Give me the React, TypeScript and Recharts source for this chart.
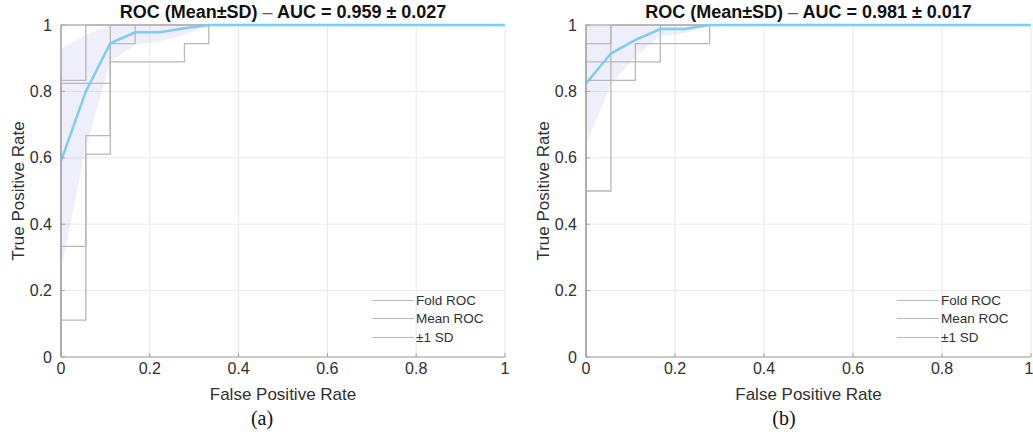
import React from 'react';
import { ComposedChart, Area, Line, XAxis, YAxis, CartesianGrid, Legend } from 'recharts';

const axisTicks = [0, 0.2, 0.4, 0.6, 0.8, 1];
const legendLabels = ['Fold ROC', 'Mean ROC', '±1 SD'];

// shared FPR grid for mean curve and SD band
const meanFpr = [0, 0.056, 0.111, 0.167, 0.222, 0.278, 0.333, 1];

// (a)
const meanTprA = [0.59, 0.8, 0.945, 0.978, 0.978, 0.99, 1, 1];
const lowerTprA = [0.26, 0.63, 0.89, 0.94, 0.95, 0.97, 1, 1];
const upperTprA = [0.93, 0.97, 1, 1, 1, 1, 1, 1];
const foldA1 = [[0, 0], [0, 0.111], [0.056, 0.111], [0.056, 0.611], [0.111, 0.611], [0.111, 0.944], [0.167, 0.944], [0.167, 1], [1, 1]];
const foldA2 = [[0, 0], [0, 0.333], [0.056, 0.333], [0.056, 0.667], [0.111, 0.667], [0.111, 0.889], [0.167, 0.889], [0.278, 0.889], [0.278, 0.944], [0.333, 0.944], [0.333, 1], [1, 1]];
const foldA3 = [[0, 0], [0, 0.833], [0.056, 0.833], [0.056, 1], [1, 1]];
const foldA4 = [[0, 0], [0, 0.824], [0.056, 0.824], [0.111, 0.824], [0.111, 0.889], [0.111, 1], [1, 1]];
const foldA5 = [[0, 0], [0, 1], [1, 1]];

// (b)
const meanTprB = [0.824, 0.914, 0.955, 0.988, 0.988, 1, 1, 1];
const lowerTprB = [0.64, 0.82, 0.905, 0.965, 0.975, 1, 1, 1];
const upperTprB = [1, 1, 1, 1, 1, 1, 1, 1];
const foldB1 = [[0, 0], [0, 0.5], [0.056, 0.5], [0.056, 0.889], [0.167, 0.889], [0.167, 1], [1, 1]];
const foldB2 = [[0, 0], [0, 0.833], [0.111, 0.833], [0.111, 0.944], [0.278, 0.944], [0.278, 1], [1, 1]];
const foldB3 = [[0, 0], [0, 0.944], [0.056, 0.944], [0.056, 1], [1, 1]];
const foldB4 = [[0, 0], [0, 0.889], [0.056, 0.889], [0.056, 1], [1, 1]];
const foldB5 = [[0, 0], [0, 1], [1, 1]];

const FOLD = '#b8b8b8';
const MEAN = '#7ecbf5';
const TEXT = '#303030';
const AXIS = '#a3a3a3';

const LegendBox = () => (
  <div style={{ fontSize: 13.5, color: TEXT }}>
    {legendLabels.map((l) => (
      <div key={l} style={{ display: 'flex', alignItems: 'center', height: 18.5 }}>
        <div style={{ width: 42, height: 0, borderTop: `1px solid ${FOLD}`, marginRight: 2 }} />
        <span>{l}</span>
      </div>
    ))}
  </div>
);

interface PanelProps {
  left: number;
  width: number;
  marginRight: number;
  auc: string;
  caption: string;
  captionX: number;
  mean: number[];
  lower: number[];
  upper: number[];
  folds: number[][][];
}

const RocPanel: React.FC<PanelProps> = ({ left, width, marginRight, auc, caption, captionX, mean, lower, upper, folds }) => {
  const rows = meanFpr.map((fpr, i) => ({ fpr, mean: mean[i], band: [lower[i], upper[i]] }));
  const plotW = width - 61 - marginRight;
  return (
    <div style={{ position: 'absolute', left, top: 0, width, height: 436 }}>
      <div
        style={{
          position: 'absolute', left: 61, top: 1, width: plotW, textAlign: 'center',
          fontSize: 18, fontWeight: 'bold', lineHeight: '22px', color: '#111', whiteSpace: 'nowrap',
        }}
      >
        ROC (Mean±SD) <span style={{ fontWeight: 'normal', color: '#555' }}>–</span> AUC = {auc}
      </div>
      <ComposedChart width={width} height={410} data={rows} margin={{ top: 25, right: marginRight, left: 0, bottom: 30 }}>
        <CartesianGrid stroke="#e8e8e8" />
        <XAxis
          dataKey="fpr" type="number" domain={[0, 1]} ticks={axisTicks} height={23}
          stroke={AXIS} tickSize={-4} tickMargin={10} tick={{ fontSize: 16, fill: TEXT }}
          tickFormatter={(v) => String(v)}
          label={{ value: 'False Positive Rate', position: 'bottom', offset: 8, fontSize: 17, fill: TEXT }}
        />
        <YAxis
          type="number" domain={[0, 1]} ticks={axisTicks} width={61}
          stroke={AXIS} tickSize={-4} tickMargin={13} tick={{ fontSize: 16, fill: TEXT }}
          tickFormatter={(v) => String(v)}
          label={{ value: 'True Positive Rate', angle: -90, position: 'insideLeft', offset: 18, fontSize: 17, fill: TEXT, style: { textAnchor: 'middle' } }}
        />
        <Area dataKey="band" stroke="none" fill="#b4b4f2" fillOpacity={0.22} isAnimationActive={false} />
        {folds.map((f, i) => (
          <Line
            key={i}
            data={f.map(([fpr, tpr]) => ({ fpr, tpr }))}
            dataKey="tpr" type="linear" stroke={FOLD} strokeWidth={1.3}
            dot={false} activeDot={false} isAnimationActive={false}
          />
        ))}
        <Line dataKey="mean" type="linear" stroke={MEAN} strokeWidth={2.5} dot={false} activeDot={false} isAnimationActive={false} />
        <Legend
          layout="vertical" align="center" verticalAlign="middle"
          wrapperStyle={{ left: 372, top: 291, width: 'auto', height: 'auto' }}
          content={() => <LegendBox />}
        />
      </ComposedChart>
      <div
        style={{
          position: 'absolute', left: captionX - 40, top: 406, width: 80, textAlign: 'center',
          fontFamily: '"Liberation Serif", serif', fontSize: 20, lineHeight: '24px', color: '#111',
        }}
      >
        {caption}
      </div>
    </div>
  );
};

export default function App() {
  return (
    <div
      style={{
        position: 'absolute', left: 0, top: 0, width: 1033, height: 436, background: '#fff',
        fontFamily: '"Liberation Sans", Arial, sans-serif', overflow: 'hidden',
      }}
    >
      <RocPanel
        left={0} width={520} marginRight={15}
        auc="0.959 ± 0.027" caption="(a)" captionX={262}
        mean={meanTprA} lower={lowerTprA} upper={upperTprA}
        folds={[foldA1, foldA2, foldA3, foldA4, foldA5]}
      />
      <RocPanel
        left={525} width={508} marginRight={2}
        auc="0.981 ± 0.017" caption="(b)" captionX={259}
        mean={meanTprB} lower={lowerTprB} upper={upperTprB}
        folds={[foldB1, foldB2, foldB3, foldB4, foldB5]}
      />
    </div>
  );
}
